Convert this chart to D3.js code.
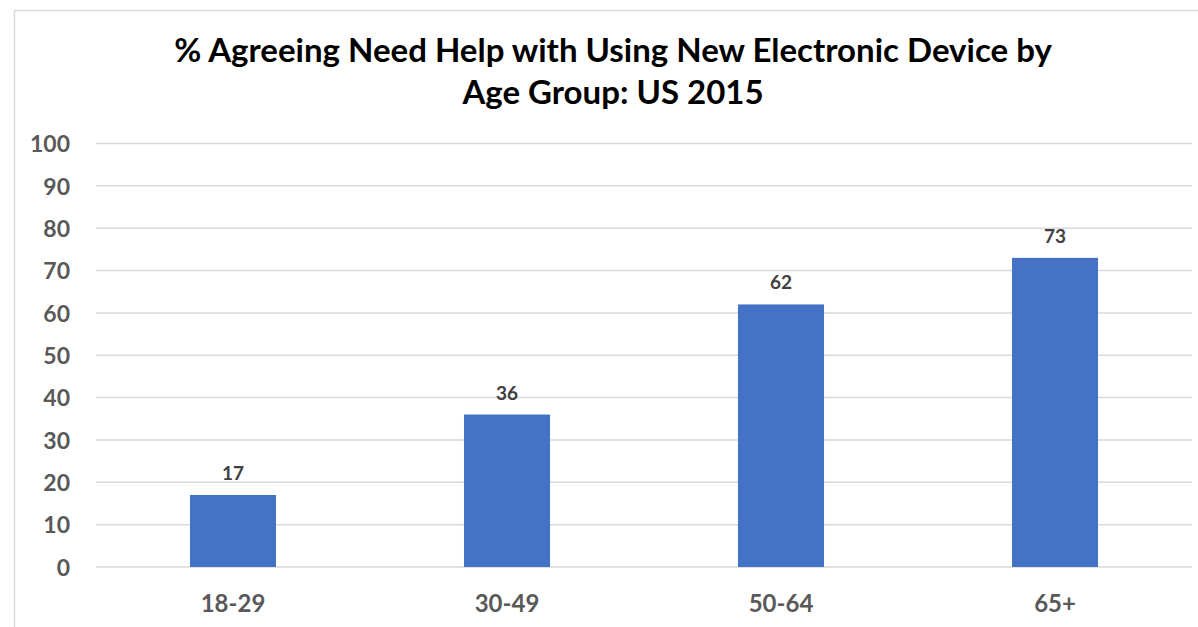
<!DOCTYPE html>
<html>
<head>
<meta charset="utf-8">
<script src="https://cdn.jsdelivr.net/npm/d3@7"></script>
<style>
  html, body { margin: 0; padding: 0; background: #fff; }
  svg { display: block; font-family: Lato, "Open Sans", sans-serif; }
</style>
</head>
<body>
<svg id="chart" width="1198" height="627"></svg>
<script>
// Survey data: share agreeing they need help using a new electronic device
const ageGroups = ["18-29", "30-49", "50-64", "65+"];
const agreePct = [17, 36, 62, 73];
const yTicks = [0, 10, 20, 30, 40, 50, 60, 70, 80, 90, 100];
const titleLines = ["% Agreeing Need Help with Using New Electronic Device by", "Age Group: US 2015"];

const svg = d3.select("#chart");
const W = 1198, H = 627;

// chart frame
svg.append("path")
  .attr("d", `M14.5,${H} L14.5,10.5 L${W},10.5`)
  .attr("fill", "none")
  .attr("stroke", "#d9d9d9")
  .attr("stroke-width", 1.5);

const x = d3.scaleBand()
  .domain(ageGroups)
  .range([96, 1192])
  .paddingInner(0.686)
  .paddingOuter(0.343);

const y = d3.scaleLinear().domain([0, 100]).range([567, 143.5]);

// gridlines
svg.append("g")
  .selectAll("line")
  .data(yTicks)
  .join("line")
  .attr("x1", 96).attr("x2", 1192)
  .attr("y1", d => y(d)).attr("y2", d => y(d))
  .attr("stroke", "#d9d9d9")
  .attr("stroke-width", 1.5);

// y axis labels
const yAxis = d3.axisLeft(y).tickValues(yTicks).tickSize(0).tickPadding(0);
svg.append("g")
  .attr("transform", "translate(70,0)")
  .call(yAxis)
  .call(g => g.select(".domain").remove())
  .call(g => g.selectAll("text")
    .attr("fill", "#595959")
    .attr("font-family", "Lato, sans-serif")
    .attr("font-weight", "bold")
    .attr("font-size", 23)
    .attr("dy", "0.36em"));

// bars
svg.append("g")
  .selectAll("rect")
  .data(ageGroups)
  .join("rect")
  .attr("x", d => x(d))
  .attr("width", x.bandwidth())
  .attr("y", (d, i) => y(agreePct[i]))
  .attr("height", (d, i) => y(0) - y(agreePct[i]))
  .attr("fill", "#4472c4");

// value labels
svg.append("g")
  .selectAll("text")
  .data(ageGroups)
  .join("text")
  .attr("x", d => x(d) + x.bandwidth() / 2)
  .attr("y", (d, i) => y(agreePct[i]) - 15)
  .attr("text-anchor", "middle")
  .attr("fill", "#404040")
  .attr("font-weight", "bold")
  .attr("font-size", 19)
  .text((d, i) => agreePct[i]);

// x axis labels
const xAxis = d3.axisBottom(x).tickSize(0).tickPadding(0);
svg.append("g")
  .attr("transform", "translate(0,612)")
  .call(xAxis)
  .call(g => g.select(".domain").remove())
  .call(g => g.selectAll("text")
    .attr("fill", "#595959")
    .attr("font-family", "Lato, sans-serif")
    .attr("font-weight", "bold")
    .attr("font-size", 24)
    .attr("dy", "0"));

// title
svg.append("text")
  .attr("x", 613)
  .attr("text-anchor", "middle")
  .attr("fill", "#000")
  .attr("font-weight", "bold")
  .attr("font-size", 33)
  .selectAll("tspan")
  .data(titleLines)
  .join("tspan")
  .attr("x", 613)
  .attr("y", (d, i) => 62 + i * 42)
  .text(d => d);
</script>
</body>
</html>
